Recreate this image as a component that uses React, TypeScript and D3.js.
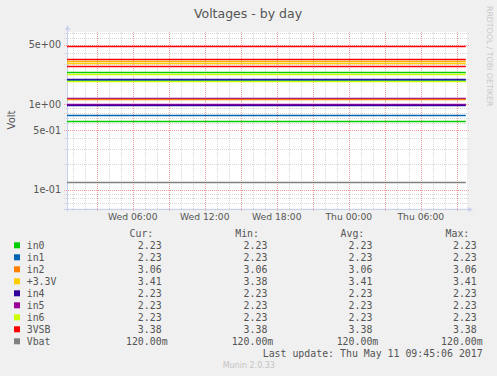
import React from "react";
import * as d3 from "d3";

const W = 497;
const H = 376;

// ---- data ----
const title = "Voltages - by day";
const yLabel = "Volt";
const watermark = "RRDTOOL / TOBI OETIKER";
const footer = "Munin 2.0.33";
const lastUpdate = "Last update: Thu May 11 09:45:06 2017";

const timeStart = Date.UTC(2017, 4, 10, 0, 31, 0);
const timeEnd = Date.UTC(2017, 4, 11, 9, 51, 0);
const dataEnd = Date.UTC(2017, 4, 11, 9, 45, 6);

// horizontal lines drawn in the plot (value, colour)
const lineValues = [4.83, 3.4, 3.22, 3.05, 2.83, 2.39, 2.28, 1.98, 1.92, 1.87, 1.18, 1.15, 1.02, 0.986, 0.753, 0.64, 0.123];
const lineColors = ["#FF0000", "#FF0000", "#FFB000", "#FFCC00", "#FF0000", "#00CC00", "#CCFF00", "#330099", "#0066B3", "#CCFF00", "#990099", "#FF8000", "#990099", "#330099", "#0066B3", "#00CC00", "#808080"];

const seriesNames = ["in0", "in1", "in2", "+3.3V", "in4", "in5", "in6", "3VSB", "Vbat"];
const seriesColors = ["#00CC00", "#0066B3", "#FF8000", "#FFCC00", "#330099", "#990099", "#CCFF00", "#FF0000", "#808080"];
const curValues = ["2.23", "2.23", "3.06", "3.41", "2.23", "2.23", "2.23", "3.38", "120.00m"];
const minValues = ["2.23", "2.23", "3.06", "3.38", "2.23", "2.23", "2.23", "3.38", "120.00m"];
const avgValues = ["2.23", "2.23", "3.06", "3.41", "2.23", "2.23", "2.23", "3.38", "120.00m"];
const maxValues = ["2.23", "2.23", "3.06", "3.41", "2.23", "2.23", "2.23", "3.38", "120.00m"];
const columnHeaders = ["Cur:", "Min:", "Avg:", "Max:"];

const yMajorTicks = [5, 1, 0.5, 0.1];
const yTickLabels = ["5e+00", "1e+00", "5e-01", "1e-01"];

export default function App() {
  const left = 67, right = 467, top = 32, bottom = 208.5;
  const x = d3.scaleUtc().domain([timeStart, timeEnd]).range([left, right]);
  const y = d3.scaleLog().domain([0.06, 7.1]).range([bottom, top]);

  const hours = d3.utcHour.range(new Date(timeStart), new Date(timeEnd));
  const minorHours = hours.filter((d) => d.getUTCHours() % 3 !== 0);
  const majorHours = hours.filter((d) => d.getUTCHours() % 3 === 0);
  const labelHours = hours.filter((d) => d.getUTCHours() % 6 === 0);
  const fmt = d3.utcFormat("%a %H:%M");

  const minorY: number[] = [];
  [0.01, 0.1, 1].forEach((dec) => {
    [2, 3, 4, 6, 7, 8, 9].forEach((m) => {
      const v = m * dec;
      if (v > 0.06 && v < 7.1) minorY.push(v);
    });
  });

  const line = d3
    .line<[number, number]>()
    .x((d) => x(d[0]))
    .y((d) => Math.round(y(d[1])) + 0.5);

  const mono = "'DejaVu Sans Mono', monospace";
  const sans = "'DejaVu Sans', sans-serif";
  const textCol = "#555";
  const legFont = 9.9;
  const charW = 5.96;
  const colRight = [167.6, 273.3, 378.3, 482.7];
  const colHeaderRight = [153.3, 259, 364.3, 469.3];
  const cols = [curValues, minValues, avgValues, maxValues];

  return (
    <svg width={W} height={H} style={{ position: "absolute", left: 0, top: 0 }}>
      <rect x={0} y={0} width={W} height={H} fill="#F0F0F0" />
      <text x={248} y={18} textAnchor="middle" fontFamily={sans} fontSize={12.5} fill={textCol}>
        {title}
      </text>
      <text transform={`translate(486.5,6) rotate(90)`} fontFamily={sans} fontSize={7.8} fill="#C8C8C8">
        {watermark}
      </text>
      <rect x={left} y={top} width={right - left} height={bottom - top} fill="#FFFFFF" />
      {/* minor grid */}
      {minorHours.map((d, i) => (
        <line key={"vx" + i} x1={Math.round(x(d)) + 0.5} x2={Math.round(x(d)) + 0.5} y1={top} y2={bottom + 2} stroke="#D8D8D8" strokeDasharray="1,1" />
      ))}
      {minorY.map((v, i) => (
        <line key={"hy" + i} x1={left - 3} x2={right + 3} y1={Math.round(y(v)) + 0.5} y2={Math.round(y(v)) + 0.5} stroke="#D8D8D8" strokeDasharray="1,1" />
      ))}
      {/* major grid */}
      {majorHours.map((d, i) => (
        <line key={"mx" + i} x1={Math.round(x(d)) + 0.5} x2={Math.round(x(d)) + 0.5} y1={top} y2={bottom + 3} stroke="#F4A0A0" strokeDasharray="1,1" />
      ))}
      {yMajorTicks.map((v, i) => (
        <line key={"my" + i} x1={left - 3} x2={right + 3} y1={Math.round(y(v)) + 0.5} y2={Math.round(y(v)) + 0.5} stroke="#F4A0A0" strokeDasharray="1,1" />
      ))}
      {/* axes */}
      <line x1={left + 0.5} x2={left + 0.5} y1={bottom + 3} y2={28} stroke="#C8D0F0" />
      <path d={`M${left - 2},${30} L${left + 0.5},${25} L${left + 3},${30} Z`} fill="#C8D0F0" />
      <line x1={left - 3} x2={470} y1={Math.round(bottom) + 0.5} y2={Math.round(bottom) + 0.5} stroke="#C8D0F0" />
      <path d={`M${468},${Math.round(bottom) - 2} L${473},${Math.round(bottom) + 0.5} L${468},${Math.round(bottom) + 3} Z`} fill="#C8D0F0" />
      {/* data lines */}
      {lineValues.map((v, i) => (
        <path
          key={"l" + i}
          d={line([[timeStart, v], [dataEnd, v]]) || ""}
          stroke={lineColors[i]}
          strokeWidth={1.3}
          fill="none"
        />
      ))}
      {/* y tick labels */}
      {yMajorTicks.map((v, i) => (
        <text key={"yt" + i} x={61} y={y(v) + 3.5} textAnchor="end" fontFamily={sans} fontSize={9.6} fill={textCol}>
          {yTickLabels[i]}
        </text>
      ))}
      <text transform={`translate(15,120) rotate(-90)`} textAnchor="middle" fontFamily={sans} fontSize={10} fill={textCol}>
        {yLabel}
      </text>
      {/* x labels */}
      {labelHours.map((d, i) => (
        <text key={"xt" + i} x={x(d)} y={220} textAnchor="middle" fontFamily={sans} fontSize={9.2} fill={textCol}>
          {fmt(d)}
        </text>
      ))}
      {/* legend */}
      {columnHeaders.map((h, i) => (
        <text key={"h" + i} x={colHeaderRight[i]} y={236.7} textAnchor="end" fontFamily={mono} fontSize={legFont} fill={textCol}>
          {h}
        </text>
      ))}
      {seriesNames.map((n, i) => {
        const yy = 248.8 + i * 12;
        return (
          <g key={"lg" + i}>
            <rect x={14} y={yy - 6.5} width={6} height={6} fill={seriesColors[i]} />
            <text x={26.7} y={yy} fontFamily={mono} fontSize={legFont} fill={textCol}>
              {n}
            </text>
            {cols.map((c, j) => {
              const val = c[i];
              const hasUnit = /[a-zA-Z]$/.test(val);
              return (
                <text key={"v" + j} x={colRight[j] - (hasUnit ? 0 : charW)} y={yy} textAnchor="end" fontFamily={mono} fontSize={legFont} fill={textCol}>
                  {val}
                </text>
              );
            })}
          </g>
        );
      })}
      <text x={482.7} y={356.5} textAnchor="end" fontFamily={mono} fontSize={legFont} fill={textCol}>
        {lastUpdate}
      </text>
      <text x={248.8} y={367.5} textAnchor="middle" fontFamily={sans} fontSize={8} fill="#C4C4C4">
        {footer}
      </text>
    </svg>
  );
}
